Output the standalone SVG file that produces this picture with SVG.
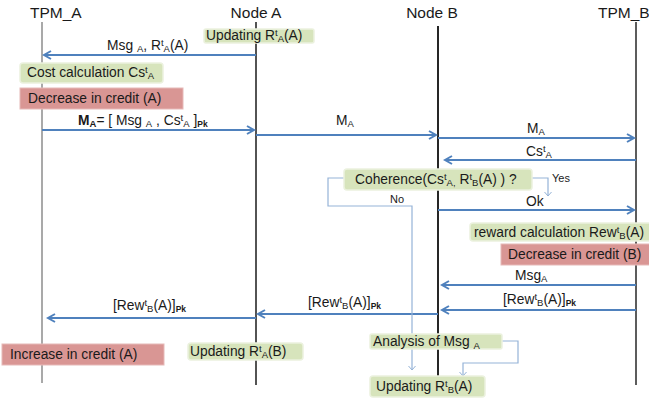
<svg xmlns="http://www.w3.org/2000/svg" width="649" height="403" viewBox="0 0 649 403">
<defs>
<marker id="ah" markerWidth="10" markerHeight="10" refX="8" refY="5" orient="auto" markerUnits="userSpaceOnUse">
<path d="M1,1 L8,5 L1,9" fill="none" stroke="#4f81bd" stroke-width="2"/>
</marker>
<marker id="ahs" markerWidth="10" markerHeight="10" refX="5" refY="5" orient="auto" markerUnits="userSpaceOnUse">
<path d="M1,1.5 L5,5 L1,8.5" fill="none" stroke="#95b3d7" stroke-width="1"/>
</marker>
</defs>
<style>
text{font-family:"Liberation Sans",Arial,sans-serif;font-size:13.8px;fill:#1a1a1a}
.title{font-size:15.5px}
.small{font-size:11px}
.sub{font-size:9.5px}
.pk{font-size:8.5px;font-weight:bold}
.msg{stroke:#4f81bd;stroke-width:2;fill:none;marker-end:url(#ah)}
.thin{stroke:#95b3d7;stroke-width:1.2;fill:none}
.green{fill:#d7e4bc;stroke:#ebf1de;stroke-width:1.5}
.red{fill:#d99694;stroke:#e6b9b8;stroke-width:1}
</style>
<rect width="649" height="403" fill="#ffffff"/>

<g id="lifelines">
<g id="tpm_a"><text class="title" x="30" y="18">TPM_A</text><line x1="42" y1="22" x2="42" y2="383" stroke="#8c8c8c" stroke-width="1.5"/></g>
<g id="node_a"><text class="title" x="256" y="18" text-anchor="middle">Node A</text><line x1="256" y1="22" x2="256" y2="385" stroke="#1a1a1a" stroke-width="1.5"/></g>
<g id="node_b"><text class="title" x="432" y="18" text-anchor="middle">Node B</text><line x1="438" y1="26" x2="438" y2="376" stroke="#262626" stroke-width="2"/></g>
<g id="tpm_b"><text class="title" x="598" y="18">TPM_B</text><line x1="636" y1="22" x2="636" y2="385" stroke="#262626" stroke-width="1.5"/></g>
</g>

<g id="connectors">
<path class="msg" d="M256,55 H44"/>
<path class="msg" d="M42,130 H254"/>
<path class="msg" d="M256,135 H436"/>
<path class="msg" d="M438,138 H634"/>
<path class="msg" d="M636,160 H445"/>
<path class="msg" d="M438,210 H634"/>
<path class="msg" d="M636,285 H442"/>
<path class="msg" d="M636,310 H442"/>
<path class="msg" d="M438,314 H258"/>
<path class="msg" d="M256,318 H48"/>
<path class="thin" d="M532,178 H548 V196" marker-end="url(#ahs)"/>
<path class="thin" d="M344,178 H328 V206 H412 V370" marker-end="url(#ahs)"/>
<path class="thin" d="M502,341 H518 V363 H463 V376" marker-end="url(#ahs)"/>
</g>

<g id="labels">
<text x="107" y="50">Msg <tspan class="sub" dy="2">A</tspan><tspan dy="-2">, R</tspan><tspan class="sub" dy="-4">t</tspan><tspan class="sub" dy="6">A</tspan><tspan dy="-2">(A)</tspan></text>
<text x="78" y="125"><tspan font-weight="bold">M</tspan><tspan class="sub" font-weight="bold" dy="2">A</tspan><tspan dy="-2">= [ Msg </tspan><tspan class="sub" dy="2">A</tspan><tspan dy="-2"> , Cs</tspan><tspan class="sub" dy="-4">t</tspan><tspan class="sub" dy="6">A</tspan><tspan dy="-2"> ]</tspan><tspan class="pk" dy="2">Pk</tspan></text>
<text x="336" y="125">M<tspan class="sub" dy="2">A</tspan></text>
<text x="527" y="133">M<tspan class="sub" dy="2">A</tspan></text>
<text x="526" y="156">Cs<tspan class="sub" dy="-4">t</tspan><tspan class="sub" dy="6">A</tspan></text>
<text class="small" x="552" y="182">Yes</text>
<text class="small" x="390" y="203">No</text>
<text x="526" y="206">Ok</text>
<text x="515" y="280">Msg<tspan class="sub" dy="2">A</tspan></text>
<text x="503" y="304">[Rew<tspan class="sub" dy="-4">t</tspan><tspan class="sub" dy="6">B</tspan><tspan dy="-2">(A)]</tspan><tspan class="pk" dy="2">Pk</tspan></text>
<text x="308" y="307">[Rew<tspan class="sub" dy="-4">t</tspan><tspan class="sub" dy="6">B</tspan><tspan dy="-2">(A)]</tspan><tspan class="pk" dy="2">Pk</tspan></text>
<text x="113" y="310">[Rew<tspan class="sub" dy="-4">t</tspan><tspan class="sub" dy="6">B</tspan><tspan dy="-2">(A)]</tspan><tspan class="pk" dy="2">Pk</tspan></text>
</g>

<g id="updating_ra_a"><rect class="green" x="204" y="29" width="110" height="14" rx="2"/><text x="206" y="40">Updating R<tspan class="sub" dy="-4">t</tspan><tspan class="sub" dy="6">A</tspan><tspan dy="-2">(A)</tspan></text></g>
<g id="cost_calc"><rect class="green" x="20" y="63" width="143" height="20" rx="3"/><text x="27" y="77">Cost calculation Cs<tspan class="sub" dy="-4">t</tspan><tspan class="sub" dy="6">A</tspan></text></g>
<g id="decrease_a"><rect class="red" x="20" y="88" width="163" height="21"/><text x="28" y="103">Decrease in credit (A)</text></g>
<g id="coherence"><rect class="green" x="344" y="169" width="188" height="21" rx="3"/><text x="355" y="184">Coherence(Cs<tspan class="sub" dy="-4">t</tspan><tspan class="sub" dy="6">A,</tspan><tspan dy="-2"> R</tspan><tspan class="sub" dy="-4">t</tspan><tspan class="sub" dy="6">B</tspan><tspan dy="-2">(A) ) ?</tspan></text></g>
<g id="reward_calc"><rect class="green" x="470" y="223" width="185" height="18" rx="3"/><text x="474" y="237">reward calculation Rew<tspan class="sub" dy="-4">t</tspan><tspan class="sub" dy="6">B</tspan><tspan dy="-2">(A)</tspan></text></g>
<g id="decrease_b"><rect class="red" x="501" y="244" width="154" height="21"/><text x="508" y="259">Decrease in credit (B)</text></g>
<g id="increase_a"><rect class="red" x="2" y="344" width="162" height="21"/><text x="10" y="359">Increase in credit (A)</text></g>
<g id="updating_ra_b"><rect class="green" x="188" y="343" width="115" height="17" rx="3"/><text x="190" y="356">Updating R<tspan class="sub" dy="-4">t</tspan><tspan class="sub" dy="6">A</tspan><tspan dy="-2">(B)</tspan></text></g>
<g id="analysis"><rect class="green" x="370" y="334" width="132" height="15" rx="2"/><text x="373" y="346">Analysis of  Msg <tspan class="sub" dy="3">A</tspan></text></g>
<g id="updating_rb_a"><rect class="green" x="370" y="376" width="115" height="21" rx="3"/><text x="376" y="391">Updating R<tspan class="sub" dy="-4">t</tspan><tspan class="sub" dy="6">B</tspan><tspan dy="-2">(A)</tspan></text></g>
</svg>
